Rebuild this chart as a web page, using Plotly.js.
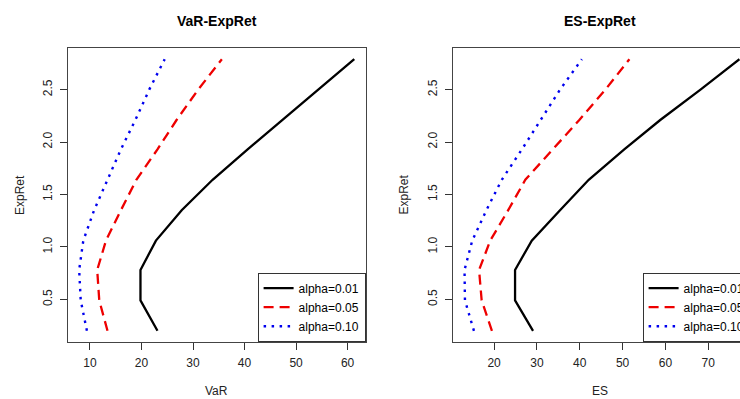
<!DOCTYPE html>
<html>
<head>
<meta charset="utf-8">
<script src="https://cdn.plot.ly/plotly-3.0.1.min.js"></script>
<style>
  html, body { margin: 0; padding: 0; background: #fff; overflow: hidden; width: 740px; height: 399px; }
  #chart { width: 760px; height: 399px; }
</style>
</head>
<body>
<div id="chart"></div>
<script>
// Expected return levels (y values, shared by both panels)
const expRet = [0.20, 0.49, 0.78, 1.06, 1.35, 1.64, 1.93, 2.21, 2.50, 2.79];

// VaR panel
const varAlpha01 = [23.1, 19.8, 19.8, 22.8, 27.8, 33.8, 40.6, 47.4, 54.4, 61.3];
const varAlpha05 = [13.4, 11.8, 11.4, 13.1, 16.0, 19.0, 23.1, 26.8, 31.0, 35.6];
const varAlpha10 = [9.4, 8.2, 7.9, 8.7, 10.8, 13.4, 16.0, 18.8, 21.5, 24.5];

// ES panel
const esAlpha01 = [29.1, 24.9, 24.9, 28.8, 35.4, 42.1, 50.4, 58.8, 68.2, 77.3];
const esAlpha05 = [19.5, 17.1, 16.5, 19.1, 23.3, 27.3, 33.7, 39.9, 46.0, 51.6];
const esAlpha10 = [15.3, 13.2, 13.1, 14.9, 18.2, 21.8, 26.5, 30.8, 35.4, 40.5];

// Tick labels
const varTicks = [10, 20, 30, 40, 50, 60];
const esTicks = [20, 30, 40, 50, 60, 70];
const retTicks = [0.5, 1.0, 1.5, 2.0, 2.5];

const seriesNames = ["alpha=0.01", "alpha=0.05", "alpha=0.10"];
const panelTitles = ["VaR-ExpRet", "ES-ExpRet"];
const xTitles = ["VaR", "ES"];
const yTitle = "ExpRet";

const FONT = "Liberation Sans, Arial, Helvetica, sans-serif";
const styles = [
  {color: "#000000", width: 2.3, dash: "solid"},
  {color: "#ee0000", width: 2.3, dash: "10px,6px"},
  {color: "#0000ee", width: 2.4, dash: "2.5px,5.5px"}
];

const W = 760, H = 399;
const px = v => v / W;
const py = v => (H - v) / H;

const varSeries = [varAlpha01, varAlpha05, varAlpha10];
const esSeries = [esAlpha01, esAlpha05, esAlpha10];

const traces = [];
varSeries.forEach((s, i) => traces.push({
  x: s, y: expRet, type: "scatter", mode: "lines", name: seriesNames[i],
  line: styles[i], xaxis: "x", yaxis: "y", legend: "legend", hoverinfo: "skip"
}));
esSeries.forEach((s, i) => traces.push({
  x: s, y: expRet, type: "scatter", mode: "lines", name: seriesNames[i],
  line: styles[i], xaxis: "x2", yaxis: "y2", legend: "legend2", hoverinfo: "skip"
}));

const boxTop = 48.3, boxBottom = 341.7;
const leftBox = [68.3, 365.6], rightBox = [453.3, 750.6];
const yDomain = [py(boxBottom), py(boxTop)];

function xAxis(domain, range, anchor, ticks) {
  return {
    domain: domain, range: range, anchor: anchor,
    tickmode: "array", tickvals: ticks, ticktext: ticks.map(String),
    ticks: "outside", ticklen: 7, tickwidth: 1, tickcolor: "#333",
    ticklabelstandoff: 3,
    showline: true, mirror: true, linecolor: "#444", linewidth: 1,
    showgrid: false, zeroline: false,
    tickfont: {family: FONT, size: 12, color: "#222"}
  };
}
function yAxis(range, anchor) {
  return {
    domain: yDomain, range: range, anchor: anchor,
    tickmode: "array", tickvals: retTicks, ticktext: retTicks.map(v => v.toFixed(1)),
    ticks: "outside", ticklen: 7, tickwidth: 1, tickcolor: "#333",
    tickangle: -90, ticklabelstandoff: 4,
    showline: true, mirror: true, linecolor: "#444", linewidth: 1,
    showgrid: false, zeroline: false,
    tickfont: {family: FONT, size: 12, color: "#222"}
  };
}
function legendAt(xRight) {
  return {
    x: px(xRight), xanchor: "right", y: py(boxBottom), yanchor: "bottom",
    bgcolor: "#ffffff", bordercolor: "#333", borderwidth: 1,
    font: {family: FONT, size: 12, color: "#000"},
    tracegroupgap: 0, itemwidth: 30, itemclick: false, itemdoubleclick: false
  };
}

const annotations = [];
[leftBox, rightBox].forEach((b, i) => {
  const cx = px((b[0] + b[1]) / 2 - (i === 1 ? 2 : 0));
  annotations.push({xref: "paper", yref: "paper", x: cx, y: py(21), xanchor: "center", yanchor: "middle",
    text: "<b>" + panelTitles[i] + "</b>", showarrow: false, font: {family: FONT, size: 14, color: "#000"}});
  annotations.push({xref: "paper", yref: "paper", x: cx, y: py(391), xanchor: "center", yanchor: "middle",
    text: xTitles[i], showarrow: false, font: {family: FONT, size: 12, color: "#222"}});
});
[20, 403.5].forEach(xp => annotations.push({xref: "paper", yref: "paper", x: px(xp), y: py(195),
  xanchor: "center", yanchor: "middle", textangle: -90,
  text: yTitle, showarrow: false, font: {family: FONT, size: 12, color: "#222"}}));

const layout = {
  width: W, height: H,
  margin: {l: 0, r: 0, t: 0, b: 0},
  paper_bgcolor: "#ffffff", plot_bgcolor: "#ffffff",
  showlegend: true,
  xaxis: xAxis([px(leftBox[0]), px(leftBox[1])], [5.79, 63.5], "y", varTicks),
  yaxis: yAxis([0.096, 2.894], "x"),
  xaxis2: xAxis([px(rightBox[0]), px(rightBox[1])], [10.48, 79.9], "y2", esTicks),
  yaxis2: yAxis([0.096, 2.894], "x2"),
  legend: legendAt(leftBox[1]),
  legend2: legendAt(rightBox[1]),
  annotations: annotations
};

Plotly.newPlot("chart", traces, layout, {displayModeBar: false, staticPlot: true});
</script>
</body>
</html>
